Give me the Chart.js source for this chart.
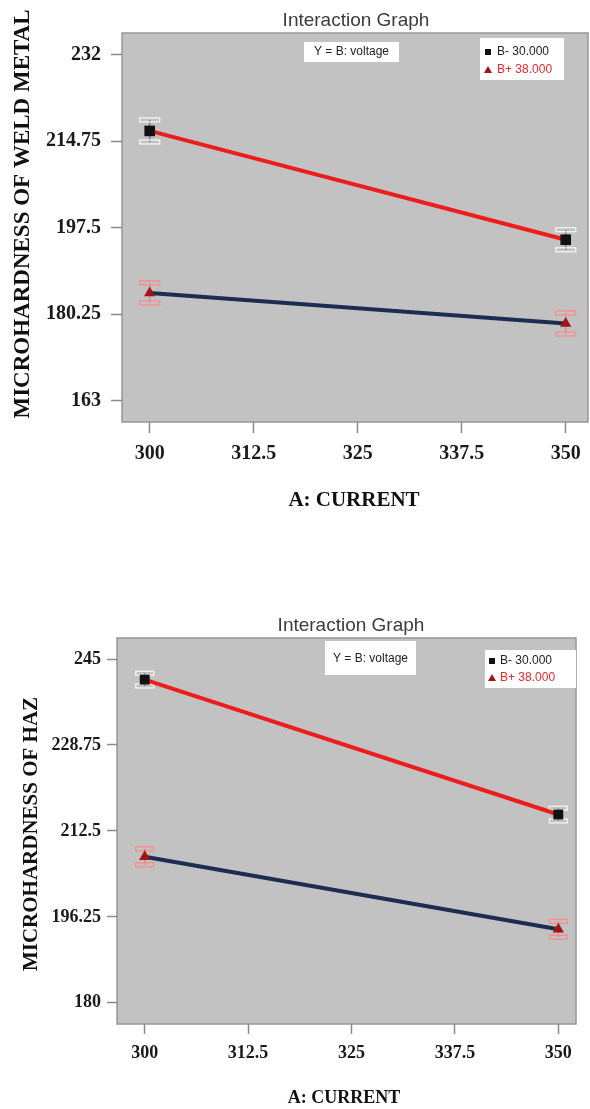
<!DOCTYPE html>
<html>
<head>
<meta charset="utf-8">
<script src="https://cdn.jsdelivr.net/npm/chart.js@4"></script>
<style>
  html, body { margin: 0; padding: 0; background: #fff; }
  body { width: 590px; height: 1109px; position: relative; overflow: hidden; }
  .panel { position: absolute; left: 0; width: 600px; }
</style>
</head>
<body>
<div class="panel" style="top:0;height:540px"><canvas id="weld"></canvas></div>
<div class="panel" style="top:560px;height:549px"><canvas id="haz"></canvas></div>
<script>
// Factor A: welding current levels
const currentLevels = [300, 350];
const currentTicks = [300, 312.5, 325, 337.5, 350];
const voltageLabels = ['B- 30.000', 'B+ 38.000'];

// Weld metal microhardness (B- = 30 V, B+ = 38 V)
const weldTicks = [163, 180.25, 197.5, 214.75, 232];
const weldLow = [216.8, 195.1];
const weldHigh = [184.5, 178.4];
const weldLowErr = [2.2, 2.0];
const weldHighErr = [2.0, 2.1];

// Heat affected zone microhardness
const hazTicks = [180, 196.25, 212.5, 228.75, 245];
const hazLow = [241.1, 215.6];
const hazHigh = [207.6, 193.9];
const hazLowErr = [1.2, 1.2];
const hazHighErr = [1.5, 1.5];

const SERIF = '"Liberation Serif", "Times New Roman", serif';
const SANS = '"Liberation Sans", Arial, sans-serif';
const PANEL_W = 600;

function decorPlugin(spec) {
  return {
    id: 'panelDecor',
    beforeDraw(chart) {
      const { ctx, chartArea: a } = chart;
      ctx.save();
      ctx.fillStyle = '#c2c2c2';
      ctx.fillRect(a.left, a.top, a.right - a.left, a.bottom - a.top);
      ctx.strokeStyle = '#979797';
      ctx.lineWidth = 1.5;
      ctx.strokeRect(a.left, a.top, a.right - a.left, a.bottom - a.top);
      ctx.restore();
    },
    beforeDatasetsDraw(chart) {
      const { ctx } = chart;
      const xs = chart.scales.x, ys = chart.scales.y;
      ctx.save();
      spec.errors.forEach((errs, di) => {
        const vals = chart.data.datasets[di].data;
        const col = di === 0 ? 'rgba(245,245,245,0.9)' : 'rgba(250,140,140,0.95)';
        const stem = di === 0 ? '#6a6a6a' : '#f07a7a';
        vals.forEach((p, i) => {
          const px = xs.getPixelForValue(p.x);
          const yt = ys.getPixelForValue(p.y + errs[i]);
          const yb = ys.getPixelForValue(p.y - errs[i]);
          ctx.strokeStyle = stem;
          ctx.lineWidth = 1.2;
          ctx.beginPath();
          ctx.moveTo(px, yt); ctx.lineTo(px, yb);
          ctx.stroke();
          ctx.strokeStyle = col;
          ctx.lineWidth = 1.4;
          const hw = spec.capHalf;
          [yt, yb].forEach(y => {
            ctx.strokeRect(px - hw, y - 2, hw * 2, 4);
          });
        });
      });
      ctx.restore();
    },
    afterDraw(chart) {
      const { ctx } = chart;
      ctx.save();
      // chart heading
      ctx.fillStyle = '#3c3c3c';
      ctx.font = spec.titleFont;
      ctx.textAlign = 'center';
      ctx.textBaseline = 'middle';
      ctx.fillText('Interaction Graph', spec.title.x, spec.title.y);

      // factor note box
      const b = spec.factorBox;
      ctx.fillStyle = '#ffffff';
      ctx.fillRect(b.x, b.y, b.w, b.h);
      ctx.fillStyle = '#222';
      ctx.font = spec.smallFont;
      ctx.fillText('Y = B: voltage', b.x + b.w / 2, b.ty);

      // legend box
      const l = spec.legend;
      ctx.fillStyle = '#ffffff';
      ctx.fillRect(l.x, l.y, l.w, l.h);
      ctx.textAlign = 'left';
      ctx.font = spec.smallFont;
      // square marker
      ctx.fillStyle = '#111';
      ctx.fillRect(l.mx - 3, l.r1 - 3, 6, 6);
      ctx.fillStyle = '#222';
      ctx.fillText(voltageLabels[0], l.tx, l.r1);
      // triangle marker
      ctx.fillStyle = '#a01414';
      ctx.beginPath();
      ctx.moveTo(l.mx, l.r2 - 4);
      ctx.lineTo(l.mx + 4, l.r2 + 3);
      ctx.lineTo(l.mx - 4, l.r2 + 3);
      ctx.closePath();
      ctx.fill();
      ctx.fillStyle = '#e8282b';
      ctx.fillText(voltageLabels[1], l.tx, l.r2);

      // axis titles
      ctx.fillStyle = '#111';
      ctx.textAlign = 'center';
      ctx.font = spec.axisTitleFont;
      ctx.fillText('A: CURRENT', spec.xTitle.x, spec.xTitle.y);
      ctx.save();
      ctx.translate(spec.yTitle.x, spec.yTitle.y);
      ctx.rotate(-Math.PI / 2);
      ctx.font = spec.yTitleFont;
      ctx.fillText(spec.yTitle.text, 0, 0);
      ctx.restore();
      ctx.restore();
    }
  };
}

function makeChart(id, spec) {
  const a = spec.area;
  const ds = (vals, lineColor, style, fill, r) => ({
    data: currentLevels.map((x, i) => ({ x, y: vals[i] })),
    showLine: true,
    borderColor: lineColor,
    borderWidth: 4,
    pointStyle: style,
    pointRadius: r,
    pointHoverRadius: r,
    pointBackgroundColor: fill,
    pointBorderColor: fill,
    pointBorderWidth: 0
  });
  return new Chart(document.getElementById(id), {
    type: 'scatter',
    data: {
      datasets: [
        ds(spec.low, '#ee1d1d', 'rect', '#111111', spec.rectR),
        ds(spec.high, '#1d2d52', 'triangle', '#a31515', spec.triR)
      ]
    },
    options: {
      responsive: true,
      maintainAspectRatio: false,
      animation: false,
      events: [],
      layout: { padding: { left: 0, top: a.t, right: PANEL_W - a.r, bottom: 0 } },
      plugins: { legend: { display: false }, tooltip: { enabled: false }, title: { display: false } },
      scales: {
        x: {
          type: 'linear',
          min: spec.xMin,
          max: spec.xMax,
          afterBuildTicks: s => { s.ticks = currentTicks.map(v => ({ value: v })); },
          afterFit: s => { s.height = spec.H - a.b; s.paddingLeft = 0; s.paddingRight = 0; },
          ticks: {
            autoSkip: false,
            maxRotation: 0,
            color: '#1a1a1a',
            padding: spec.xPad,
            font: { family: SERIF, size: spec.tickSize, weight: 'bold' },
            callback: v => String(v)
          },
          grid: { drawOnChartArea: false, drawTicks: true, tickLength: spec.tickLen, tickColor: '#8a8a8a', tickWidth: 1.5 },
          border: { display: false }
        },
        y: {
          type: 'linear',
          min: spec.yMin,
          max: spec.yMax,
          afterBuildTicks: s => { s.ticks = spec.yTicks.map(v => ({ value: v })); },
          afterFit: s => { s.width = a.l; s.paddingTop = 0; s.paddingBottom = 0; },
          ticks: {
            autoSkip: false,
            color: '#1a1a1a',
            padding: spec.yPad,
            font: { family: SERIF, size: spec.tickSize, weight: 'bold' },
            callback: v => String(v)
          },
          grid: { drawOnChartArea: false, drawTicks: true, tickLength: spec.tickLen, tickColor: '#8a8a8a', tickWidth: 1.5 },
          border: { display: false }
        }
      }
    },
    plugins: [decorPlugin(spec)]
  });
}

makeChart('weld', {
  H: 540,
  area: { l: 122, t: 33, r: 588, b: 422 },
  xMin: 296.67, xMax: 352.68,
  yMin: 158.75, yMax: 236.33,
  yTicks: weldTicks,
  low: weldLow, high: weldHigh,
  errors: [weldLowErr, weldHighErr],
  capHalf: 10, rectR: 7.5, triR: 6.5,
  tickSize: 20, tickLen: 11, xPad: 9, yPad: 10,
  titleFont: '19px ' + SANS,
  smallFont: '12px ' + SANS,
  axisTitleFont: 'bold 21px ' + SERIF,
  yTitleFont: 'bold 23px ' + SERIF,
  title: { x: 356, y: 21 },
  factorBox: { x: 304, y: 42, w: 95, h: 20, ty: 52 },
  legend: { x: 480, y: 38, w: 84, h: 42, r1: 52, r2: 70, mx: 488, tx: 497 },
  xTitle: { x: 354, y: 501 },
  yTitle: { x: 23, y: 214, text: 'MICROHARDNESS OF WELD METAL' }
});

makeChart('haz', {
  H: 549,
  area: { l: 117, t: 78, r: 576, b: 464 },
  xMin: 296.65, xMax: 352.14,
  yMin: 176.0, yMax: 248.97,
  yTicks: hazTicks,
  low: hazLow, high: hazHigh,
  errors: [hazLowErr, hazHighErr],
  capHalf: 9, rectR: 7, triR: 6.5,
  tickSize: 18, tickLen: 10, xPad: 9, yPad: 6,
  titleFont: '19px ' + SANS,
  smallFont: '12px ' + SANS,
  axisTitleFont: 'bold 18px ' + SERIF,
  yTitleFont: 'bold 21px ' + SERIF,
  title: { x: 351, y: 66 },
  factorBox: { x: 325, y: 81, w: 91, h: 34, ty: 99 },
  legend: { x: 485, y: 90, w: 91, h: 38, r1: 101, r2: 118, mx: 492, tx: 500 },
  xTitle: { x: 344, y: 538 },
  yTitle: { x: 32, y: 274, text: 'MICROHARDNESS OF HAZ' }
});
</script>
</body>
</html>
